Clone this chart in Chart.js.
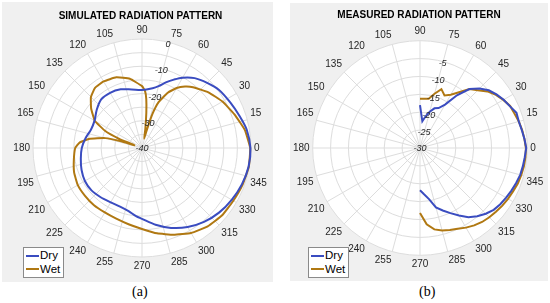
<!DOCTYPE html>
<html>
<head>
<meta charset="utf-8">
<script src="https://cdn.jsdelivr.net/npm/chart.js@4.4.0/dist/chart.umd.min.js"></script>
<style>
  body { margin: 0; width: 550px; height: 303px; background: #fff; position: relative; overflow: hidden;
         font-family: "Liberation Sans", Arial, sans-serif; }
  .panel { position: absolute; background: #f0f0f0; }
  #panelA { left: 2px; top: 2px; width: 271px; height: 280px; }
  #panelB { left: 290px; top: 3px; width: 258px; height: 278px; }
  .panel canvas { position: absolute; left: 0; top: 0; }
  .legend { position: absolute; background: #fff; border: 1px solid #8a8a8a; font-size: 11.5px; line-height: 13.5px;
            padding: 1px 3px 1px 2px; color: #000; }
  .legend .row { display: flex; align-items: center; white-space: nowrap; }
  .legend .swatch { display: inline-block; width: 13px; height: 2px; margin-right: 1px; }
  .caption { position: absolute; top: 284px; font-family: "Liberation Serif", serif; font-size: 14px; color: #000; }
</style>
</head>
<body>
<div class="panel" id="panelA">
  <canvas id="chartA" width="271" height="280"></canvas>
  <div class="legend" id="legendA" style="left:21px; top:245px;"></div>
</div>
<div class="panel" id="panelB">
  <canvas id="chartB" width="258" height="278"></canvas>
  <div class="legend" id="legendB" style="left:18px; top:244px;"></div>
</div>
<div class="caption" style="left:132px;">(a)</div>
<div class="caption" style="left:419px;">(b)</div>

<script>
// --- Data (angle in degrees, value in dB) ---
const thetaTicks = [0, 15, 30, 45, 60, 75, 90, 105, 120, 135, 150, 165, 180, 195, 210, 225, 240, 255, 270, 285, 300, 315, 330, 345];
const seriesNames = ['Dry', 'Wet'];
const seriesColors = ['#3a4cc0', '#b07812'];

// (a) simulated
const simDryAngles = [0, 10, 18, 27, 37, 45, 53, 60, 65, 70, 75, 80, 90, 100, 110, 120, 130, 140, 150, 160, 170, 180,
  190, 200, 210, 220, 230, 240, 250, 258, 265, 270, 280, 290, 300, 310, 320, 330, 340, 350];
const simDryDb = [-0.2, -1.0, -2.3, -3.5, -4.6, -6.2, -7.9, -10.2, -12.3, -14.4, -16.5, -17.7, -18.7, -18.2, -17.1, -16.6, -16.7, -18.3, -19.9, -20.1, -19.0, -17.9,
  -17.2, -16.4, -15.8, -15.8, -16.4, -17.0, -17.0, -16.3, -14.9, -14.0, -11.4, -8.8, -6.5, -4.6, -3.1, -2.0, -1.0, -0.3];

const simWetAngles = [0, 10, 20, 30, 40, 50, 55, 60, 65, 70, 73, 75, 77, 80, 83, 85, 87, 90, 100, 110, 120, 128, 135, 142, 150, 155, 158, 160,
  162, 165, 170, 175, 180, 190, 200, 210, 220, 230, 240, 250, 260, 270, 280, 290, 300, 310, 320, 330, 340, 350];
const simWetDb = [-0.3, -1.7, -3.9, -5.9, -8.2, -10.9, -12.5, -14.6, -17.6, -22.0, -27.0, -33.0, -36.5, -33.0, -27.0, -22.0, -19.0, -17.3, -14.2, -12.4, -11.8, -12.0, -13.5, -16.3, -20.0, -25.0, -31.0, -37.0,
  -32.0, -26.0, -20.5, -17.0, -15.5, -14.6, -13.5, -12.8, -12.7, -12.6, -12.7, -12.4, -11.6, -10.3, -8.2, -6.1, -4.0, -2.5, -1.6, -1.3, -0.7, -0.2];

// (b) measured, every 5 degrees from 270 through 0 to 90
const measAngles = [270, 275, 280, 285, 290, 295, 300, 305, 310, 315, 320, 325, 330, 335, 340, 345, 350, 355,
  0, 5, 10, 15, 20, 25, 30, 35, 40, 45, 50, 55, 60, 65, 70, 75, 80, 85, 90];
const measDryDb = [-18.2, -17.0, -15.5, -12.8, -11.4, -9.9, -8.2, -6.4, -5.1, -4.0, -3.1, -2.6, -2.2, -1.8, -1.4, -1.0, -0.8, -0.6,
  -0.3, -0.7, -1.1, -1.4, -1.3, -2.3, -3.0, -3.9, -4.9, -6.5, -8.5, -12.0, -16.0, -17.7, -18.2, -19.5, -21.0, -22.5, -18.0];
const measWetDb = [-11.8, -8.6, -6.9, -6.1, -5.6, -5.1, -4.3, -3.6, -3.0, -2.6, -2.3, -1.9, -1.6, -1.3, -0.9, -0.7, -0.5, -0.4,
  -0.4, -0.7, -1.0, -1.4, -1.9, -2.2, -3.1, -4.1, -5.4, -7.2, -8.5, -11.0, -12.8, -13.8, -12.5, -14.3, -16.0, -16.2, -16.2];

const rTicksA = [-40, -30, -20, -10, 0];
const rTicksB = [-30, -25, -20, -15, -10, -5];

// --- helpers ---
// label index i sits at (90 - i*step) degrees, counter-clockwise from the right
function angleOf(i, step) { return ((90 - i * step) % 360 + 360) % 360; }
function buildLabels(step) {
  const out = [];
  for (let i = 0; i < 360 / step; i++) {
    const a = angleOf(i, step);
    out.push(thetaTicks.includes(a) ? String(a) : '');
  }
  return out;
}
function buildData(angles, values, step) {
  const n = 360 / step;
  const data = new Array(n).fill(null);
  angles.forEach((a, k) => {
    const idx = (((90 - a) / step) % n + n) % n;
    data[idx] = values[k];
  });
  return data;
}

const discPlugin = {
  id: 'disc',
  beforeDraw(chart) {
    const s = chart.scales.r;
    const ctx = chart.ctx;
    ctx.save();
    ctx.fillStyle = '#ffffff';
    ctx.beginPath();
    ctx.arc(s.xCenter, s.yCenter, s.drawingArea, 0, Math.PI * 2);
    ctx.fill();
    ctx.restore();
  }
};

const rTickPlugin = {
  id: 'rTicks',
  afterDraw(chart, args, opts) {
    const s = chart.scales.r;
    const ctx = chart.ctx;
    ctx.save();
    ctx.font = 'italic 9px "Liberation Sans", Arial, sans-serif';
    ctx.fillStyle = '#262626';
    ctx.textAlign = 'center';
    ctx.textBaseline = 'middle';
    opts.ticks.forEach(v => {
      const d = Math.max(0, s.getDistanceFromCenterForValue(v) - 2);
      const p = s.getPointPosition(opts.index, d);
      ctx.fillText(String(v), p.x, p.y);
    });
    ctx.restore();
  }
};

function makePolar(id, cfg) {
  const labels = buildLabels(cfg.step);
  return new Chart(document.getElementById(id), {
    type: 'radar',
    data: {
      labels: labels,
      datasets: cfg.series.map((vals, k) => ({
        label: seriesNames[k],
        data: buildData(cfg.angles[k], vals, cfg.step),
        borderColor: seriesColors[k],
        backgroundColor: 'rgba(0,0,0,0)',
        borderWidth: 2,
        pointRadius: 0,
        fill: false,
        spanGaps: cfg.spanGaps,
        tension: cfg.tension[k]
      }))
    },
    options: {
      responsive: false,
      animation: false,
      layout: { padding: cfg.padding },
      plugins: {
        legend: { display: false },
        tooltip: { enabled: false },
        title: {
          display: true,
          text: cfg.title,
          color: '#000',
          font: { family: '"Liberation Sans", Arial, sans-serif', size: 10, weight: 'bold' },
          padding: { top: 6, bottom: 2 }
        },
        rTicks: { ticks: cfg.rTicks, index: cfg.tickIndex }
      },
      scales: {
        r: {
          min: cfg.min,
          max: cfg.max,
          startAngle: 0,
          ticks: { stepSize: 5, display: false },
          grid: { circular: true, color: '#dddddd', lineWidth: 1 },
          angleLines: {
            color: '#dddddd',
            lineWidth: ctx => (angleOf(ctx.index, cfg.step) % 15 === 0 ? 1 : 0)
          },
          pointLabels: {
            display: true,
            padding: 3,
            color: '#262626',
            font: { family: '"Liberation Sans", Arial, sans-serif', size: 10 }
          }
        }
      }
    },
    plugins: [discPlugin, rTickPlugin]
  });
}

makePolar('chartA', {
  title: 'SIMULATED RADIATION PATTERN',
  step: 1, min: -40, max: 0,
  angles: [simDryAngles, simWetAngles],
  series: [simDryDb, simWetDb],
  spanGaps: true, tension: [0.3, 0.12],
  rTicks: rTicksA, tickIndex: 14,
  padding: { left: 8, right: 2, top: 2, bottom: 10 }
});

makePolar('chartB', {
  title: 'MEASURED RADIATION PATTERN',
  step: 5, min: -30, max: 0,
  angles: [measAngles, measAngles],
  series: [measDryDb, measWetDb],
  spanGaps: false, tension: [0, 0],
  rTicks: rTicksB, tickIndex: 3,
  padding: { left: 2, right: 2, top: 0, bottom: 7 }
});

// --- HTML legends ---
['legendA', 'legendB'].forEach(id => {
  document.getElementById(id).innerHTML = seriesNames.map((n, k) =>
    `<div class="row"><span class="swatch" style="background:${seriesColors[k]}"></span>${n}</div>`).join('');
});
</script>
</body>
</html>
